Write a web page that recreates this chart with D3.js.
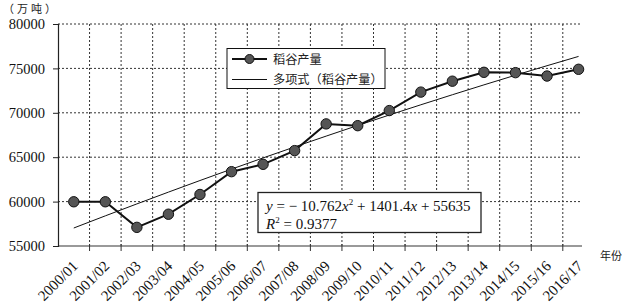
<!DOCTYPE html>
<html><head><meta charset="utf-8">
<script src="https://cdn.jsdelivr.net/npm/d3@7"></script>
<style>
html,body{margin:0;padding:0;background:#fff;}
svg{display:block;}
.serif{font-family:"Liberation Serif","DejaVu Serif",serif;}
.cjk{font-family:"Noto Sans CJK SC","Noto Sans CJK JP",sans-serif;}
</style></head>
<body>
<svg id="chart" width="623" height="304"></svg>
<script>
const categories = ["2000/01","2001/02","2002/03","2003/04","2004/05","2005/06","2006/07","2007/08","2008/09","2009/10","2010/11","2011/12","2012/13","2013/14","2014/15","2015/16","2016/17"];
const riceOutput = [59980, 59980, 57100, 58580, 60800, 63370, 64200, 65740, 68750, 68550, 70250, 72330, 73560, 74560, 74520, 74140, 74900];
// polynomial trendline values from displayed equation y = -10.762x^2 + 1401.4x + 55635 (x = 1..17)
const trendValues = [57026, 58395, 59742, 61068, 62373, 63656, 64917, 66157, 67376, 68573, 69748, 70902, 72034, 73145, 74235, 75302, 76349];
const yTicks = [55000, 60000, 65000, 70000, 75000, 80000];
const yUnit = "（万吨）";
const xTitle = "年份";
const legendLabels = ["稻谷产量", "多项式（稻谷产量）"];
const eqText = {a:"10.762", b:"1401.4", c:"55635", r2:"0.9377"};

const svg = d3.select("#chart");
const L = 58, T = 24, B = 246, bandW = 31.55, clipR = 582;

const x = d3.scaleBand().domain(categories).range([L, L + bandW*categories.length]).padding(0);
const y = d3.scaleLinear().domain([55000, 80000]).range([B, T]);
const cx = c => x(c) + x.bandwidth()/2;

svg.append("defs").append("clipPath").attr("id","plotclip")
  .append("rect").attr("x", L).attr("y", 0).attr("width", clipR - L).attr("height", 304);

const plot = svg.append("g").attr("clip-path","url(#plotclip)");

// horizontal gridlines
plot.append("g").selectAll("line").data(yTicks.filter(v => v > 55000)).join("line")
  .attr("x1", L).attr("x2", clipR - 2).attr("y1", d => y(d)).attr("y2", d => y(d))
  .attr("stroke", "#333").attr("stroke-width", 1).attr("stroke-dasharray", "2,2");

// vertical gridlines at category boundaries
plot.append("g").selectAll("line").data(categories.slice(1)).join("line")
  .attr("x1", d => x(d)).attr("x2", d => x(d)).attr("y1", T).attr("y2", B)
  .attr("stroke", "#333").attr("stroke-width", 1).attr("stroke-dasharray", "2,2");

// x axis line and ticks
plot.append("line").attr("x1", L).attr("x2", clipR).attr("y1", B).attr("y2", B)
  .attr("stroke", "#777").attr("stroke-width", 1.5);
plot.append("g").selectAll("line").data(categories.slice(1)).join("line")
  .attr("x1", d => x(d)).attr("x2", d => x(d)).attr("y1", B - 2).attr("y2", B + 5)
  .attr("stroke", "#333").attr("stroke-width", 1);

// y axis
const yAxis = d3.axisLeft(y).tickValues(yTicks).tickSize(5).tickPadding(8).tickFormat(d3.format("d"));
const gy = svg.append("g").attr("transform", `translate(${L},0)`).call(yAxis);
gy.select(".domain").attr("stroke", "#222").attr("stroke-width", 1.2);
gy.selectAll(".tick line").attr("stroke", "#222");
gy.selectAll("text").attr("class","serif").attr("font-size", 14.5).attr("fill","#111");

// x labels
svg.append("g").selectAll("text").data(categories).join("text")
  .attr("class","serif")
  .attr("transform", d => `translate(${cx(d) + 5},${B + 21}) rotate(-45)`)
  .attr("text-anchor","end").attr("font-size", 15).attr("fill","#111")
  .text(d => d);

// trend line
const line = d3.line().x((d,i) => cx(categories[i])).y(d => y(d));
plot.append("path").datum(trendValues).attr("d", line)
  .attr("fill","none").attr("stroke","#111").attr("stroke-width",1);

// main series
svg.append("path").datum(riceOutput).attr("d", line)
  .attr("fill","none").attr("stroke","#111").attr("stroke-width",2);
svg.append("g").selectAll("circle").data(riceOutput).join("circle")
  .attr("cx", (d,i) => cx(categories[i])).attr("cy", d => y(d)).attr("r", 5.2)
  .attr("fill","#555").attr("stroke","#111").attr("stroke-width",1);

// legend
const lg = svg.append("g");
lg.append("rect").attr("x", 227).attr("y", 48.5).attr("width", 158).attr("height", 40)
  .attr("fill","#fff").attr("stroke","#111").attr("stroke-width",1);
lg.append("line").attr("x1",232).attr("x2",267).attr("y1",59).attr("y2",59).attr("stroke","#111").attr("stroke-width",2);
lg.append("circle").attr("cx",249.5).attr("cy",59).attr("r",4.5).attr("fill","#555").attr("stroke","#111");
lg.append("line").attr("x1",232).attr("x2",267).attr("y1",79.5).attr("y2",79.5).attr("stroke","#111").attr("stroke-width",1);
lg.selectAll("text").data(legendLabels).join("text").attr("class","cjk")
  .attr("x", 273).attr("y", (d,i) => 63.5 + i*20.5).attr("font-size", 12.2).attr("fill","#222")
  .text(d => d);

// equation box
const eq = svg.append("g");
eq.append("rect").attr("x", 258).attr("y", 192.5).attr("width", 223).attr("height", 40)
  .attr("fill","#fff").attr("stroke","#222").attr("stroke-width",1.3);
const t1 = eq.append("text").attr("class","serif").attr("x", 266).attr("y", 211).attr("font-size", 15).attr("fill","#111");
t1.append("tspan").attr("font-style","italic").text("y");
t1.append("tspan").text(" = \u2212 " + eqText.a);
t1.append("tspan").attr("font-style","italic").text("x");
t1.append("tspan").attr("font-size", 9).attr("dy", -6).text("2");
t1.append("tspan").attr("dy", 6).text(" + " + eqText.b);
t1.append("tspan").attr("font-style","italic").text("x");
t1.append("tspan").text(" + " + eqText.c);
const t2 = eq.append("text").attr("class","serif").attr("x", 266).attr("y", 229).attr("font-size", 15).attr("fill","#111");
t2.append("tspan").attr("font-style","italic").text("R");
t2.append("tspan").attr("font-size", 9).attr("dy", -6).text("2");
t2.append("tspan").attr("dy", 6).text(" = " + eqText.r2);

// titles
svg.append("text").attr("class","cjk").attr("x", 3).attr("y", 12.8).attr("font-size", 11).attr("letter-spacing", 3).attr("fill","#222").text(yUnit);
svg.append("text").attr("class","cjk").attr("x", 600).attr("y", 260).attr("font-size", 11).attr("fill","#222").text(xTitle);
</script>
</body></html>
